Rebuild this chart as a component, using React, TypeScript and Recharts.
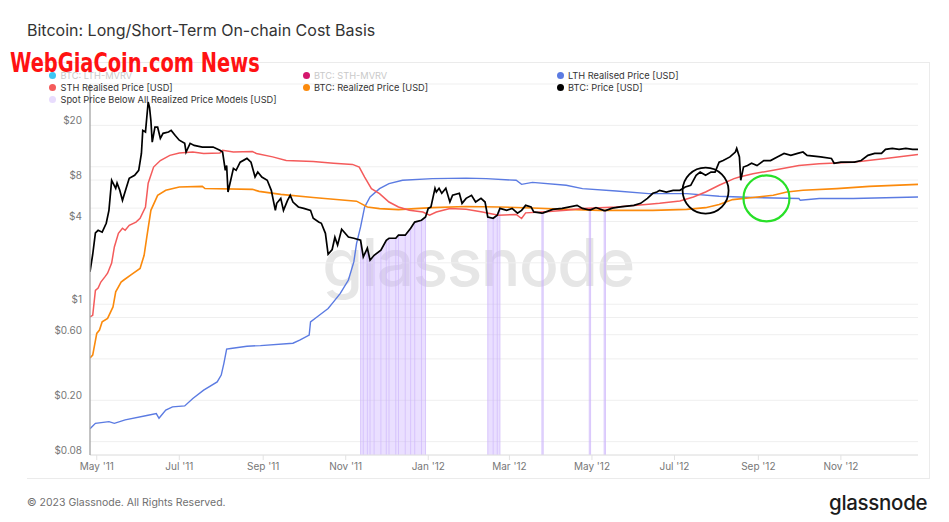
import React from "react";
import { ComposedChart, Line, Area, XAxis, YAxis, CartesianGrid, ReferenceLine, ReferenceDot } from "recharts";

// BTC spot price
const priceDates = [
  '2011-04-26', '2011-04-28', '2011-04-30', '2011-05-02', '2011-05-05', '2011-05-08', '2011-05-10', '2011-05-12',
  '2011-05-15', '2011-05-16', '2011-05-18', '2011-05-20', '2011-05-23', '2011-05-25', '2011-05-29', '2011-06-01',
  '2011-06-03', '2011-06-04', '2011-06-06', '2011-06-08', '2011-06-09', '2011-06-10', '2011-06-11', '2011-06-13',
  '2011-06-15', '2011-06-17', '2011-06-19', '2011-06-23', '2011-06-25', '2011-06-28', '2011-07-01', '2011-07-05',
  '2011-07-06', '2011-07-09', '2011-07-12', '2011-07-18', '2011-07-26', '2011-07-31', '2011-08-02', '2011-08-04',
  '2011-08-05', '2011-08-06', '2011-08-08', '2011-08-10', '2011-08-12', '2011-08-15', '2011-08-20', '2011-08-23',
  '2011-08-26', '2011-08-28', '2011-08-31', '2011-09-04', '2011-09-07', '2011-09-10', '2011-09-11', '2011-09-14',
  '2011-09-16', '2011-09-19', '2011-09-21', '2011-09-23', '2011-09-27', '2011-10-01', '2011-10-06', '2011-10-08',
  '2011-10-12', '2011-10-14', '2011-10-17', '2011-10-19', '2011-10-22', '2011-10-24', '2011-10-26', '2011-10-29',
  '2011-11-03', '2011-11-07', '2011-11-12', '2011-11-14', '2011-11-17', '2011-11-19', '2011-11-22', '2011-11-27',
  '2011-12-01', '2011-12-03', '2011-12-08', '2011-12-10', '2011-12-15', '2011-12-19', '2011-12-22', '2011-12-27',
  '2011-12-30', '2012-01-01', '2012-01-03', '2012-01-06', '2012-01-07', '2012-01-09', '2012-01-11', '2012-01-14',
  '2012-01-17', '2012-01-19', '2012-01-24', '2012-01-26', '2012-01-29', '2012-02-02', '2012-02-05', '2012-02-09',
  '2012-02-12', '2012-02-14', '2012-02-18', '2012-02-21', '2012-02-23', '2012-02-28', '2012-03-03', '2012-03-07',
  '2012-03-10', '2012-03-13', '2012-03-17', '2012-03-19', '2012-03-25', '2012-03-26', '2012-04-02', '2012-04-09',
  '2012-04-20', '2012-04-24', '2012-04-29', '2012-04-30', '2012-05-04', '2012-05-10', '2012-05-11', '2012-05-16',
  '2012-05-22', '2012-06-01', '2012-06-06', '2012-06-11', '2012-06-15', '2012-06-18', '2012-06-20', '2012-06-25',
  '2012-06-30', '2012-07-05', '2012-07-09', '2012-07-13', '2012-07-17', '2012-07-20', '2012-07-24', '2012-07-28',
  '2012-07-31', '2012-08-03', '2012-08-06', '2012-08-11', '2012-08-15', '2012-08-16', '2012-08-18', '2012-08-19',
  '2012-08-21', '2012-08-24', '2012-08-27', '2012-08-31', '2012-09-05', '2012-09-10', '2012-09-15', '2012-09-20',
  '2012-09-25', '2012-09-30', '2012-10-04', '2012-10-07', '2012-10-17', '2012-10-25', '2012-10-27', '2012-11-01',
  '2012-11-06', '2012-11-11', '2012-11-16', '2012-11-21', '2012-11-26', '2012-12-01', '2012-12-04', '2012-12-09',
  '2012-12-14', '2012-12-19', '2012-12-24', '2012-12-28',
];
const priceUsd = [
  1.72, 2.3, 3.3, 3.45, 3.34, 3.88, 4.82, 7.97,
  6.97, 7.6, 6.74, 5.7, 7.12, 8.24, 8.66, 9.42,
  12.5, 18.4, 17.9, 29.6, 27.0, 21.7, 15.1, 19.4,
  19.4, 16.1, 17.5, 17.9, 18.4, 16.9, 15.6, 14.8,
  12.8, 14.8, 14.3, 13.9, 13.9, 13.2, 12.8, 9.42,
  10.2, 6.55, 7.97, 9.74, 9.42, 10.8, 11.5, 10.8,
  8.42, 9.15, 8.42, 7.97, 6.74, 4.82, 5.42, 5.89,
  4.82, 5.7, 6.2, 5.54, 5.1, 4.98, 4.82, 4.22,
  3.96, 3.88, 3.28, 2.31, 2.5, 3.07, 2.69, 3.51,
  3.08, 3.02, 2.92, 2.21, 2.56, 2.09, 2.27, 2.47,
  2.92, 3.02, 3.02, 3.18, 3.18, 3.57, 3.96, 4.08,
  4.31, 4.98, 5.1, 6.97, 6.55, 6.97, 6.41, 6.97,
  5.54, 6.2, 6.41, 5.42, 5.89, 6.2, 5.54, 5.89,
  5.54, 4.31, 4.22, 4.44, 4.98, 4.82, 4.98, 4.59,
  4.82, 5.24, 5.1, 4.69, 4.6, 4.62, 4.9, 4.98,
  5.24, 4.98, 4.85, 4.86, 5.05, 4.8, 4.8, 5.0,
  5.1, 5.24, 5.42, 5.89, 6.41, 6.55, 6.74, 6.55,
  6.74, 6.74, 7.12, 7.33, 8.66, 9.15, 8.66, 9.15,
  9.15, 10.8, 11.1, 11.8, 12.8, 13.6, 11.8, 7.97,
  9.95, 10.2, 10.6, 10.2, 11.1, 11.1, 11.8, 12.5,
  12.1, 12.5, 12.8, 12.1, 11.8, 11.5, 10.6, 10.8,
  10.8, 10.8, 11.1, 12.1, 12.5, 12.5, 13.4, 13.6,
  13.4, 13.6, 13.4, 13.4,
];

// STH realised price
const sthDates = [
  '2011-04-26', '2011-04-28', '2011-04-30', '2011-05-02', '2011-05-04', '2011-05-07', '2011-05-09', '2011-05-12',
  '2011-05-14', '2011-05-17', '2011-05-20', '2011-05-22', '2011-05-25', '2011-05-30', '2011-06-02', '2011-06-06',
  '2011-06-08', '2011-06-12', '2011-06-17', '2011-06-24', '2011-07-01', '2011-07-11', '2011-07-19', '2011-07-31',
  '2011-08-02', '2011-08-10', '2011-08-24', '2011-08-27', '2011-09-08', '2011-09-18', '2011-10-08', '2011-10-23',
  '2011-11-06', '2011-11-11', '2011-11-15', '2011-11-20', '2011-11-26', '2011-12-03', '2011-12-10', '2011-12-18',
  '2011-12-28', '2012-01-02', '2012-01-07', '2012-01-17', '2012-01-29', '2012-02-10', '2012-02-22', '2012-03-06',
  '2012-03-10', '2012-03-13', '2012-03-25', '2012-04-12', '2012-04-24', '2012-05-19', '2012-06-12', '2012-06-20',
  '2012-07-05', '2012-07-15', '2012-07-24', '2012-08-03', '2012-08-14', '2012-08-18', '2012-08-28', '2012-09-12',
  '2012-10-01', '2012-10-16', '2012-11-10', '2012-12-04', '2012-12-28',
];
const sthUsd = [
  0.81, 0.83, 1.26, 1.31, 1.45, 1.58, 1.68, 1.99,
  2.61, 3.28, 3.57, 3.45, 3.75, 3.96, 4.22, 5.1,
  7.6, 9.95, 11.1, 12.1, 12.6, 12.8, 12.5, 12.6,
  13.2, 12.8, 12.9, 12.5, 11.8, 11.1, 10.9, 10.6,
  10.4, 9.95, 8.42, 6.93, 6.38, 5.54, 5.1, 4.82,
  4.69, 4.44, 4.69, 4.96, 4.9, 4.69, 4.44, 4.5,
  4.2, 4.62, 4.69, 4.82, 4.96, 5.1, 5.33, 5.42,
  5.64, 6.03, 6.55, 7.33, 8.2, 8.42, 8.91, 9.42,
  10.2, 10.5, 10.8, 11.5, 12.3,
];

// BTC realized price
const realizedDates = [
  '2011-04-26', '2011-04-28', '2011-05-01', '2011-05-03', '2011-05-05', '2011-05-09', '2011-05-13', '2011-05-15',
  '2011-05-19', '2011-05-21', '2011-05-26', '2011-06-02', '2011-06-05', '2011-06-07', '2011-06-10', '2011-06-15',
  '2011-06-21', '2011-07-01', '2011-07-18', '2011-07-20', '2011-08-24', '2011-08-29', '2011-09-14', '2011-10-08',
  '2011-11-09', '2011-11-17', '2011-11-26', '2011-12-10', '2012-01-04', '2012-01-29', '2012-02-22', '2012-03-18',
  '2012-04-12', '2012-05-07', '2012-06-15', '2012-07-10', '2012-07-24', '2012-08-03', '2012-08-13', '2012-08-28',
  '2012-09-12', '2012-09-22', '2012-10-04', '2012-10-29', '2012-11-22', '2012-12-28',
];
const realizedUsd = [
  0.406, 0.426, 0.613, 0.648, 0.744, 0.788, 0.956, 1.23,
  1.45, 1.5, 1.63, 1.82, 2.27, 3.09, 4.82, 6.2,
  6.74, 7.12, 7.2, 6.94, 6.85, 6.62, 6.3, 5.97,
  5.62, 5.1, 4.96, 4.88, 5.04, 5.14, 5.1, 5.01,
  4.9, 4.82, 4.82, 4.9, 5.04, 5.31, 5.77, 5.97,
  6.2, 6.55, 6.74, 6.93, 7.2, 7.45,
];

// LTH realised price
const lthDates = [
  '2011-04-26', '2011-04-30', '2011-05-10', '2011-05-14', '2011-05-22', '2011-06-07', '2011-06-14', '2011-06-16',
  '2011-06-21', '2011-06-26', '2011-07-05', '2011-07-11', '2011-07-19', '2011-07-29', '2011-08-01', '2011-08-03',
  '2011-08-05', '2011-08-08', '2011-08-20', '2011-08-30', '2011-09-23', '2011-09-28', '2011-10-05', '2011-10-06',
  '2011-10-11', '2011-10-19', '2011-10-23', '2011-10-28', '2011-11-03', '2011-11-07', '2011-11-09', '2011-11-12',
  '2011-11-15', '2011-11-19', '2011-11-26', '2011-12-03', '2011-12-13', '2012-01-04', '2012-01-29', '2012-02-13',
  '2012-03-06', '2012-03-10', '2012-03-18', '2012-04-12', '2012-04-24', '2012-05-19', '2012-06-12', '2012-07-10',
  '2012-08-03', '2012-08-28', '2012-10-01', '2012-10-02', '2012-10-16', '2012-11-10', '2012-12-28',
];
const lthUsd = [
  0.124, 0.136, 0.14, 0.136, 0.144, 0.155, 0.16, 0.148,
  0.17, 0.179, 0.182, 0.206, 0.237, 0.272, 0.305, 0.373,
  0.471, 0.476, 0.495, 0.5, 0.52, 0.548, 0.596, 0.744,
  0.81, 0.93, 1.04, 1.2, 1.5, 2.03, 2.76, 3.65,
  5.1, 6.03, 6.93, 7.54, 7.97, 8.2, 8.27, 8.2,
  7.97, 7.45, 7.7, 7.33, 6.93, 6.66, 6.38, 6.38,
  6.1, 5.97, 5.87, 5.7, 5.87, 5.87, 6.03,
];

// days where spot price sat below all realized price models
const spotBelowRanges: [string, string][] = [
  ['2011-11-12', '2011-12-30'],
  ['2012-02-14', '2012-02-23'],
  ['2012-03-25', '2012-03-26'],
  ['2012-04-29', '2012-04-30'],
  ['2012-05-10', '2012-05-11'],
];

const xTicks = [
  '2011-05-01', '2011-07-01', '2011-09-01', '2011-11-01', '2012-01-01',
  '2012-03-01', '2012-05-01', '2012-07-01', '2012-09-01', '2012-11-01',
];
const yTicks = [0.08, 0.1, 0.2, 0.4, 0.6, 0.8, 1, 2, 4, 5, 8, 10, 20, 40];
const yTickLabels = ['$0.08', '', '$0.20', '', '$0.60', '', '$1', '', '$4', '', '$8', '', '$20', ''];

const MONTHS = ['Jan', 'Feb', 'Mar', 'Apr', 'May', 'Jun', 'Jul', 'Aug', 'Sep', 'Oct', 'Nov', 'Dec'];
const toTime = (d: string) => Date.parse(d);
const fmtMonth = (t: number) => {
  const d = new Date(t);
  return `${MONTHS[d.getUTCMonth()]} '${String(d.getUTCFullYear()).slice(2)}`;
};

const toSeries = (dates: string[], values: number[]) => dates.map((d, i) => ({ t: toTime(d), v: values[i] }));

const priceData = toSeries(priceDates, priceUsd);
const sthData = toSeries(sthDates, sthUsd);
const realizedData = toSeries(realizedDates, realizedUsd);
const lthData = toSeries(lthDates, lthUsd);

const bandPoints: { t: number; v: number }[] = [];
const bandData: { t: number; v: number | null }[] = [];
spotBelowRanges.forEach(([a, b]) => {
  const pts = priceData.filter((p) => p.t >= toTime(a) && p.t <= toTime(b));
  pts.forEach((p) => {
    bandPoints.push(p);
    bandData.push(p);
  });
  bandData.push({ t: toTime(b) + 43200000, v: null });
});

const COLORS = {
  lthMvrv: '#3cc6f4',
  sthMvrv: '#d4176d',
  lth: '#5b7be2',
  sth: '#f45b5b',
  realized: '#fb8a0c',
  price: '#000000',
  band: '#e8dcfd',
};

const YTick = (props: any) => {
  const { x, y, payload } = props;
  const label = yTickLabels[yTicks.indexOf(payload.value)];
  if (!label) return null;
  return (
    <text x={x} y={y} dy={-1} textAnchor="end" fill="#777" fontSize={10} fontFamily="Inter, sans-serif">
      {label}
    </text>
  );
};

const legendItems = [
  { name: 'BTC: LTH-MVRV', color: COLORS.lthMvrv, off: true, col: 0, row: 0 },
  { name: 'BTC: STH-MVRV', color: COLORS.sthMvrv, off: true, col: 1, row: 0 },
  { name: 'LTH Realised Price [USD]', color: COLORS.lth, off: false, col: 2, row: 0 },
  { name: 'STH Realised Price [USD]', color: COLORS.sth, off: false, col: 0, row: 1 },
  { name: 'BTC: Realized Price [USD]', color: COLORS.realized, off: false, col: 1, row: 1 },
  { name: 'BTC: Price [USD]', color: COLORS.price, off: false, col: 2, row: 1 },
  { name: 'Spot Price Below All Realized Price Models [USD]', color: COLORS.band, off: false, col: 0, row: 2 },
];

function ChartLegend() {
  const colX = [49, 302.5, 556.5];
  const rowY = [75.5, 87.3, 99];
  return (
    <div style={{ position: 'absolute', left: 0, top: 0, zIndex: 3, pointerEvents: 'none' }}>
      {legendItems.map((it) => (
        <div
          key={it.name}
          style={{
            position: 'absolute',
            left: colX[it.col],
            top: rowY[it.row] - 4.5,
            height: 9,
            lineHeight: '9px',
            display: 'flex',
            alignItems: 'center',
            whiteSpace: 'nowrap',
            fontSize: 9.25,
            color: it.off ? '#c9c9c9' : '#333',
          }}
        >
          <span style={{ width: 7, height: 7, borderRadius: '50%', background: it.color, marginRight: 4.5, display: 'inline-block' }} />
          {it.name}
        </div>
      ))}
    </div>
  );
}

export default function App() {
  const t0 = toTime('2011-04-26');
  const t1 = toTime('2012-12-28');
  return (
    <div
      style={{
        position: 'absolute',
        left: 0,
        top: 0,
        width: 949,
        height: 522,
        background: '#fff',
        overflow: 'hidden',
        fontFamily: 'Inter, sans-serif',
      }}
    >
      <div style={{ position: 'absolute', left: 27, top: 20, fontSize: 16, color: '#333', whiteSpace: 'nowrap' }}>
        Bitcoin: Long/Short-Term On-chain Cost Basis
      </div>

      {/* card frame */}
      <div style={{ position: 'absolute', left: 27, top: 62, width: 903, height: 417, borderTop: '1px solid #ebebeb', borderRight: '1px solid #ebebeb', borderBottom: '1px solid #ebebeb', boxSizing: 'border-box' }} />

      {/* faint watermark behind the series */}
      <div style={{ position: 'absolute', left: 278, top: 222, width: 400, textAlign: 'center', fontSize: 66, fontWeight: 500, color: '#e6e6e6', letterSpacing: -1.5, zIndex: 0 }}>
        glassnode
      </div>

      <div style={{ position: 'absolute', left: 0, top: 0, zIndex: 1 }}>
        <ComposedChart width={949} height={522} margin={{ top: 84, right: 31, bottom: 37, left: 30 }}>
          <CartesianGrid vertical={false} stroke="#efefef" />
          <XAxis
            dataKey="t"
            type="number"
            domain={[t0, t1]}
            allowDataOverflow
            ticks={xTicks.map(toTime)}
            interval={0}
            tickFormatter={fmtMonth}
            axisLine={{ stroke: '#e2e2e2' }}
            tickLine={{ stroke: '#e2e2e2' }}
            tickSize={5}
            tickMargin={3}
            tick={{ fill: '#777', fontSize: 10, fontFamily: 'Inter, sans-serif' }}
            height={30}
          />
          <YAxis
            scale="log"
            domain={[0.08, 40]}
            allowDataOverflow
            ticks={yTicks}
            interval={0}
            tick={YTick}
            tickLine={false}
            axisLine={{ stroke: '#a3a3a3', strokeWidth: 1.3 }}
            width={60}
          />
          <Area
            data={bandData}
            dataKey="v"
            type="linear"
            baseValue={0.08}
            fill="#c5a5ff"
            fillOpacity={0.36}
            stroke="none"
            connectNulls={false}
            isAnimationActive={false}
          />
          {bandPoints.map((p) => (
            <ReferenceLine
              key={p.t}
              segment={[{ x: p.t, y: 0.08 }, { x: p.t, y: p.v }]}
              stroke="#cfb8fb"
              strokeOpacity={0.7}
              strokeWidth={1}
            />
          ))}
          <Line data={lthData} dataKey="v" type="linear" stroke={COLORS.lth} strokeWidth={1.4} dot={false} isAnimationActive={false} />
          <Line data={realizedData} dataKey="v" type="linear" stroke={COLORS.realized} strokeWidth={1.6} dot={false} isAnimationActive={false} />
          <Line data={sthData} dataKey="v" type="linear" stroke={COLORS.sth} strokeWidth={1.5} dot={false} isAnimationActive={false} />
          <Line data={priceData} dataKey="v" type="linear" stroke={COLORS.price} strokeWidth={1.7} dot={false} isAnimationActive={false} />
          <ReferenceDot x={toTime('2012-07-24')} y={6.71} r={23} fill="none" stroke="#000" strokeWidth={1.8} />
          <ReferenceDot x={toTime('2012-09-07')} y={5.89} r={23} fill="none" stroke="#28e028" strokeWidth={2.2} />
        </ComposedChart>
      </div>

      <ChartLegend />

      <div
        style={{
          position: 'absolute',
          left: 10,
          top: 53.5,
          height: 18,
          lineHeight: '18px',
          fontFamily: "'DejaVu Sans Condensed', 'Liberation Sans Narrow', sans-serif",
          fontWeight: 'bold',
          fontSize: 27,
          color: '#ff1212',
          whiteSpace: 'nowrap',
          transform: 'scaleX(0.8)',
          transformOrigin: 'left center',
          zIndex: 4,
        }}
      >
        WebGiaCoin.com News
      </div>

      <div style={{ position: 'absolute', left: 27, top: 496, fontSize: 10.5, color: '#707070', whiteSpace: 'nowrap' }}>
        © 2023 Glassnode. All Rights Reserved.
      </div>
      <div style={{ position: 'absolute', left: 829, top: 490, fontSize: 20.5, fontWeight: 500, color: '#1c1c1c', letterSpacing: -0.3, whiteSpace: 'nowrap' }}>
        glassnode
      </div>
    </div>
  );
}
